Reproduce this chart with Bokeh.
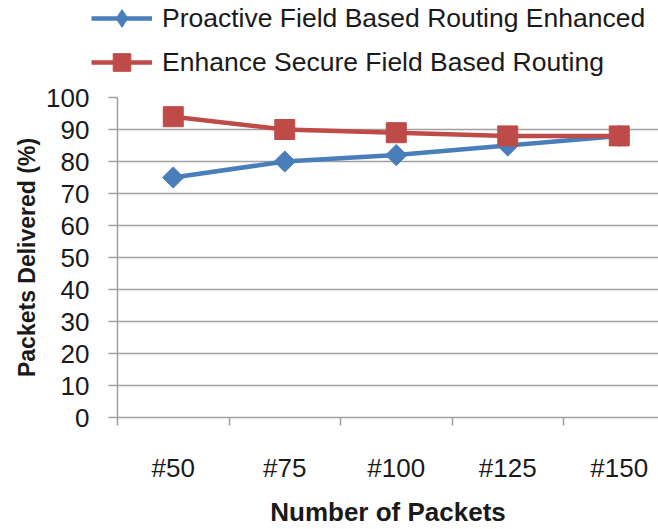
import numpy as np
from bokeh.plotting import figure
from bokeh.layouts import column
from bokeh.models import (Range1d, FixedTicker, Legend, LegendItem, ColumnDataSource)
from bokeh.embed import file_html
from bokeh.resources import INLINE

packets = ["#50", "#75", "#100", "#125", "#150"]
pfbre = [75, 80, 82, 85, 88]      # Proactive Field Based Routing Enhanced
esfbr = [94, 90, 89, 88, 88]      # Enhance Secure Field Based Routing
y_ticks = [0, 10, 20, 30, 40, 50, 60, 70, 80, 90, 100]
series_names = ["Proactive Field Based Routing Enhanced",
                "Enhance Secure Field Based Routing"]

FONT = "Liberation Sans"
TXT = "#1a1a1a"
GRID = "#a0a0a0"
BLUE = "#4a7ebb"
RED = "#be4b48"

xpos = [i + 0.5 for i in range(len(packets))]
src = ColumnDataSource(dict(x=xpos, a=pfbre, b=esfbr))


def add_series(fig):
    l1 = fig.line("x", "a", source=src, line_color=BLUE, line_width=4.5)
    d1 = fig.scatter("x", "a", source=src, marker="diamond", size=18,
                     fill_color=BLUE, line_color=BLUE)
    s1 = fig.scatter("x", "a", source=src, marker="square", angle=np.pi / 4,
                     size=15, fill_color=BLUE, line_color=BLUE)
    l2 = fig.line("x", "b", source=src, line_color=RED, line_width=4.5)
    s2 = fig.scatter("x", "b", source=src, marker="square", size=20,
                     fill_color=RED, line_color=RED)
    return l1, d1, s1, l2, s2


# ---- legend strip (top) ----
top = figure(width=658, height=80, output_backend="svg", toolbar_location=None,
             x_range=Range1d(0, 1), y_range=Range1d(0, 1),
             x_axis_location=None, y_axis_location=None,
             min_border_left=0, min_border_right=0, min_border_top=0,
             min_border_bottom=0)
top.outline_line_color = None
top.grid.grid_line_color = None
tl1, td1, ts1, tl2, ts2 = add_series(top)   # outside the strip's view; legend only

legend = Legend(items=[
    LegendItem(label=series_names[0], renderers=[tl1, td1]),
    LegendItem(label=series_names[1], renderers=[tl2, ts2]),
], location=(91, -4), orientation="vertical")
legend.padding = 0
legend.margin = 0
legend.spacing = 0
legend.glyph_width = 61
legend.glyph_height = 44
legend.label_height = 44
legend.label_standoff = 10
legend.label_text_font = FONT
legend.label_text_font_size = "26.5px"
legend.label_text_color = TXT
legend.border_line_color = None
legend.background_fill_alpha = 0
top.add_layout(legend, "center")

# ---- main chart ----
p = figure(width=658, height=449, output_backend="svg", toolbar_location=None,
           x_range=Range1d(0, 4.852), y_range=Range1d(0, 100),
           min_border_left=117, min_border_right=0, min_border_top=17,
           min_border_bottom=109)
p.outline_line_color = None
p.background_fill_color = "white"
add_series(p)

for f in (top, p):
    try:
        f.frame_align = False
    except Exception:
        pass

xa = p.xaxis[0]
xa.ticker = FixedTicker(ticks=xpos, minor_ticks=[0, 1, 2, 3, 4, 5])
xa.major_label_overrides = {x: lab for x, lab in zip(xpos, packets)}
xa.major_tick_line_color = None
xa.major_tick_in = 0
xa.major_tick_out = 8
xa.minor_tick_in = 0
xa.minor_tick_out = 8
xa.minor_tick_line_color = GRID
xa.minor_tick_line_width = 1.5
xa.axis_line_color = GRID
xa.axis_line_width = 1.5
xa.major_label_standoff = 27
xa.major_label_text_font = FONT
xa.major_label_text_font_size = "26px"
xa.major_label_text_color = TXT
xa.axis_label = "Number of Packets"
xa.axis_label_text_font = FONT
xa.axis_label_text_font_size = "26px"
xa.axis_label_text_font_style = "bold"
xa.axis_label_text_color = TXT
xa.axis_label_standoff = 11

ya = p.yaxis[0]
ya.ticker = FixedTicker(ticks=y_ticks, minor_ticks=[])
ya.major_tick_in = 0
ya.major_tick_out = 9
ya.major_tick_line_color = GRID
ya.major_tick_line_width = 1.5
ya.axis_line_color = GRID
ya.axis_line_width = 1.5
ya.major_label_standoff = 19
ya.major_label_text_font = FONT
ya.major_label_text_font_size = "26px"
ya.major_label_text_color = TXT
ya.axis_label = "Packets Delivered (%)"
ya.axis_label_text_font = FONT
ya.axis_label_text_font_size = "23px"
ya.axis_label_text_font_style = "bold"
ya.axis_label_text_color = TXT
ya.axis_label_standoff = 3

p.xgrid.grid_line_color = None
p.ygrid.ticker = FixedTicker(ticks=y_ticks, minor_ticks=[])
p.ygrid.grid_line_color = GRID
p.ygrid.grid_line_width = 1.5

layout = column(top, p, spacing=0)
open("out.html", "w").write(file_html(layout, INLINE))
